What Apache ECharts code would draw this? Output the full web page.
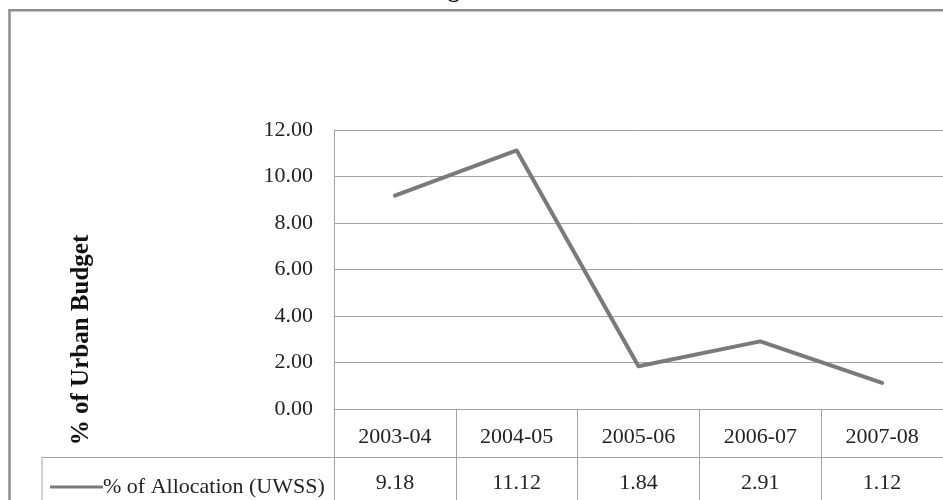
<!DOCTYPE html>
<html>
<head>
<meta charset="utf-8">
<script src="https://cdn.jsdelivr.net/npm/echarts@6/dist/echarts.min.js"></script>
<style>html,body{margin:0;padding:0;background:#fff}#c{width:943px;height:500px}</style>
</head>
<body>
<div id="c"></div>
<script>
var categories = ['2003-04', '2004-05', '2005-06', '2006-07', '2007-08'];
var allocation = [9.18, 11.12, 1.84, 2.91, 1.12];
var seriesName = '% of Allocation (UWSS)';
var yTicks = [0, 2, 4, 6, 8, 10, 12];
var yTitle = '% of Urban Budget';
var chartTitle = 'Budget';

var serif = '"Liberation Serif", "Times New Roman", serif';
var gridColor = '#a3a3a3';
var chart = echarts.init(document.getElementById('c'), null, {renderer: 'canvas'});
chart.setOption({
  animation: false,
  backgroundColor: '#fff',
  grid: {left: 334, top: 130, width: 616, height: 279, containLabel: false},
  legend: {
    left: 45, top: 471,
    icon: 'rect', itemWidth: 53, itemHeight: 3, itemGap: 0,
    textStyle: {fontFamily: serif, fontSize: 22, color: '#222', padding: [0, 0, 0, -5]},
    data: [seriesName]
  },
  xAxis: [{
    type: 'category', data: categories, boundaryGap: true, position: 'bottom',
    axisLine: {show: true, lineStyle: {color: gridColor, width: 1}},
    axisTick: {show: true, interval: 0, length: 91, lineStyle: {color: gridColor, width: 1}},
    axisLabel: {interval: 0, margin: 17, fontFamily: serif, fontSize: 22, color: '#222'},
    splitLine: {show: false}
  }, {
    type: 'category', data: allocation.map(function (v) { return v.toFixed(2); }),
    boundaryGap: true, position: 'bottom', offset: 48,
    axisLine: {show: true, onZero: false, lineStyle: {color: gridColor, width: 1}},
    axisTick: {show: false},
    axisLabel: {interval: 0, margin: 15, fontFamily: serif, fontSize: 22, color: '#222'},
    splitLine: {show: false}
  }],
  yAxis: {
    type: 'value', min: yTicks[0], max: yTicks[yTicks.length - 1], interval: yTicks[1] - yTicks[0],
    axisLine: {show: true, lineStyle: {color: gridColor, width: 1}},
    axisTick: {show: false},
    axisLabel: {margin: 21, fontFamily: serif, fontSize: 22, color: '#222',
      formatter: function (v) { return v.toFixed(2); }},
    splitLine: {show: true, lineStyle: {color: gridColor, width: 1}}
  },
  series: [{
    name: seriesName, type: 'line', data: allocation, xAxisIndex: 0,
    showSymbol: false, symbol: 'none',
    lineStyle: {color: '#7a7a7a', width: 4, cap: 'round', join: 'round'},
    itemStyle: {color: '#7a7a7a'}
  }],
  graphic: [
    {type: 'rect', shape: {x: 9.5, y: 10.3, width: 1000, height: 600},
     style: {fill: null, stroke: '#8c8c8c', lineWidth: 2.5}, silent: true},
    {type: 'polyline', shape: {points: [[42, 500], [42, 457.5], [334, 457.5]]},
     style: {fill: null, stroke: gridColor, lineWidth: 1}, silent: true},
    {type: 'text', x: 82, y: 340, rotation: Math.PI / 2,
     style: {text: yTitle, fontFamily: serif, fontWeight: 'bold', fontSize: 25, fill: '#111',
       align: 'center', verticalAlign: 'middle'}},
    {type: 'text', x: 405, y: 3,
     style: {text: chartTitle, fontFamily: serif, fontWeight: 'bold', fontSize: 24, fill: '#111',
       align: 'left', verticalAlign: 'bottom'}}
  ]
});
</script>
</body>
</html>
